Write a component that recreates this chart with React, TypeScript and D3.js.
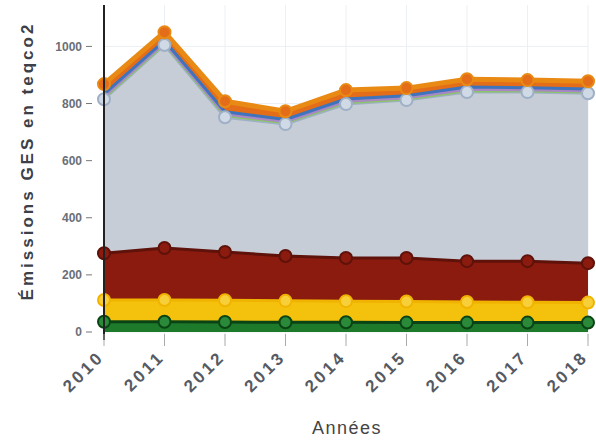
import React from "react";
import * as d3 from "d3";

const years = [2010, 2011, 2012, 2013, 2014, 2015, 2016, 2017, 2018];
const yTicks = [0, 200, 400, 600, 800, 1000];

// layer values (teqCO2), bottom to top
const agriculture = [36, 36, 35, 34, 34, 33, 33, 33, 33];
const dechets = [76, 76, 76, 75, 74, 74, 72, 71, 70];
const industrie = [164, 182, 169, 157, 151, 152, 143, 144, 138];
const residentiel = [539, 711, 472, 462, 539, 553, 592, 592, 595];
const tertiaire = [5, 4, 6, 5, 5, 4, 5, 4, 4];
const autres = [5, 4, 5, 4, 5, 4, 5, 4, 4];
const energie = [8, 7, 8, 7, 8, 7, 8, 7, 7];
const transport = [35, 30, 37, 29, 31, 27, 27, 27, 27];

const layers = [
  { name: "Agriculture", values: agriculture, fill: "#1d7a2b", line: "#0b4414", dot: "#2a8a3a" },
  { name: "Déchets", values: dechets, fill: "#f4c20d", line: "#f0b400", dot: "#f7cf3a" },
  { name: "Industrie", values: industrie, fill: "#8c1b0f", line: "#5e120a", dot: "#8c1b0f" },
  { name: "Résidentiel", values: residentiel, fill: "#c6cdd7", line: "#9fb0c6", dot: "#d0d9e6" },
  { name: "Tertiaire", values: tertiaire, fill: "#a9d48a", line: "#8cc46a", dot: "#a9d48a" },
  { name: "Autres", values: autres, fill: "#c3a7d8", line: "#a987c4", dot: "#c3a7d8" },
  { name: "Energie", values: energie, fill: "#5d8fd0", line: "#3f74bd", dot: "#5d8fd0" },
  { name: "Transport", values: transport, fill: "#e36d18", line: "#e98a14", dot: "#e36d18" },
];

export default function App() {
  const W = 596, H = 441;
  const x = d3.scalePoint<number>().domain(years).range([104, 588]);
  const y = d3.scaleLinear().domain([0, 1145]).range([332, 5]);

  const data = years.map((yr, i) => {
    const o: any = { year: yr };
    layers.forEach((l) => (o[l.name] = l.values[i]));
    return o;
  });
  const stack = d3.stack<any>().keys(layers.map((l) => l.name));
  const series = stack(data);

  const area = d3
    .area<any>()
    .x((d) => x(d.data.year)!)
    .y0((d) => y(d[0]))
    .y1((d) => y(d[1]));
  const line = d3
    .line<any>()
    .x((d) => x(d.data.year)!)
    .y((d) => y(d[1]));

  const font = "Arial, 'Liberation Sans', sans-serif";

  return (
    <svg width={W} height={H} style={{ position: "absolute", left: 0, top: 0, background: "#fff" }}>
      {/* grid */}
      {years.map((yr) => (
        <line key={"gx" + yr} x1={x(yr)} x2={x(yr)} y1={5} y2={340} stroke="#eceff3" strokeWidth={1} />
      ))}
      {yTicks.map((t) => (
        <line key={"gy" + t} x1={104} x2={588} y1={y(t)} y2={y(t)} stroke="#eceff3" strokeWidth={1} />
      ))}
      {series.map((s, i) => (
        <path key={"a" + i} d={area(s as any)!} fill={layers[i].fill} />
      ))}
      {series.map((s, i) => (
        <path key={"l" + i} d={line(s as any)!} fill="none" stroke={layers[i].line} strokeWidth={i === 7 ? 5 : 3} strokeLinejoin="round" />
      ))}
      {series.map((s, i) =>
        i === 4 || i === 5 || i === 6 ? null : (
          <g key={"d" + i}>
            {(s as any).map((d: any, j: number) => (
              <circle key={j} cx={x(d.data.year)} cy={y(d[1])} r={6} fill={layers[i].dot} stroke={layers[i].line} strokeWidth={2} />
            ))}
          </g>
        )
      )}
      {/* y axis */}
      <line x1={104} x2={104} y1={5} y2={340} stroke="#222" strokeWidth={2} />
      {yTicks.map((t) => (
        <g key={"yt" + t}>
          <line x1={86} x2={92} y1={y(t)} y2={y(t)} stroke="#777" strokeWidth={1} />
          <text x={82} y={y(t)} dy="0.35em" textAnchor="end" fontFamily={font} fontWeight="bold" fontSize={12} fill="#6b6f78">
            {t}
          </text>
        </g>
      ))}
      {/* x ticks */}
      {years.map((yr) => (
        <g key={"xt" + yr}>
          <line x1={x(yr)} x2={x(yr)} y1={334} y2={346} stroke="#aaa" strokeWidth={1} />
          <text
            transform={`translate(${x(yr)! + 1},${358}) rotate(-45)`}
            textAnchor="end"
            fontFamily={font}
            fontWeight="bold"
            fontSize={17}
            letterSpacing={3}
            fill="#555a63"
          >
            {yr}
          </text>
        </g>
      ))}
      <text x={347} y={434} textAnchor="middle" fontFamily={font} fontSize={18} letterSpacing={1.5} fill="#444">
        Années
      </text>
      <text
        transform={`translate(33,161) rotate(-90)`}
        textAnchor="middle"
        fontFamily={font}
        fontWeight="bold"
        fontSize={17}
        letterSpacing={3}
        fill="#3c4048"
      >
        Émissions GES en teqco2
      </text>
    </svg>
  );
}
